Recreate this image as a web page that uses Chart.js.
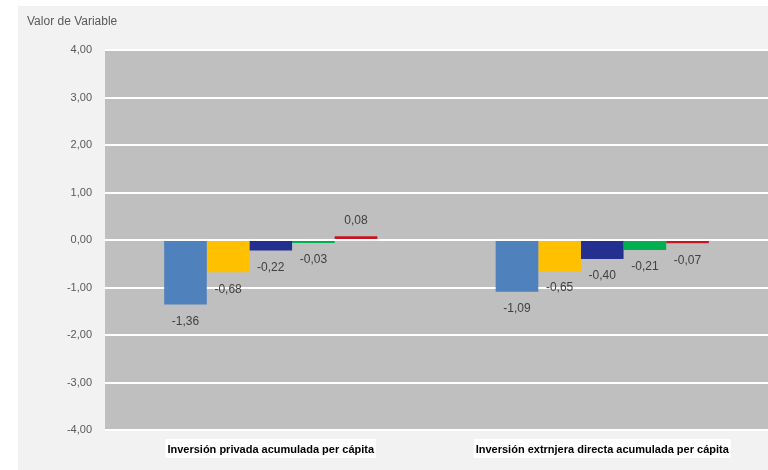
<!DOCTYPE html>
<html>
<head>
<meta charset="utf-8">
<script src="https://cdn.jsdelivr.net/npm/chart.js@4.4.0/dist/chart.umd.min.js"></script>
<style>
  html, body { margin: 0; padding: 0; background: #ffffff; }
  #wrap { position: absolute; left: 18px; top: 6px; width: 750px; height: 464px; }
</style>
</head>
<body>
<div id="wrap"><canvas id="chart" width="750" height="464"></canvas></div>
<script>
const categories = ['Inversión privada acumulada per cápita', 'Inversión extrnjera directa acumulada per cápita'];
const serie1 = [-1.36, -1.09];
const serie2 = [-0.68, -0.65];
const serie3 = [-0.22, -0.40];
const serie4 = [-0.03, -0.21];
const serie5 = [0.08, -0.07];
const yTicks = [-4, -3, -2, -1, 0, 1, 2, 3, 4];

const fmt = v => v.toFixed(2).replace('.', ',');

// gray plot area + light page background + axis title
const backgroundPlugin = {
    id: 'bg',
    beforeDraw(chart) {
        const { ctx, chartArea: a } = chart;
        ctx.save();
        ctx.fillStyle = '#f2f2f2';
        ctx.fillRect(0, 0, chart.width, chart.height);
        ctx.fillStyle = '#bfbfbf';
        ctx.fillRect(a.left, a.top, a.right - a.left, a.bottom - a.top);
        ctx.fillStyle = '#595959';
        ctx.font = '12px "Liberation Sans", Arial, sans-serif';
        ctx.textBaseline = 'middle';
        ctx.fillText('Valor de Variable', 9, 16);
        ctx.restore();
    }
};

// bold category labels on white boxes
const categoryLabels = {
    id: 'categoryLabels',
    afterDraw(chart) {
        const { ctx } = chart;
        const xs = chart.scales.x;
        const y = chart.chartArea.bottom + 20;
        ctx.save();
        ctx.font = 'bold 11px "Liberation Sans", Arial, sans-serif';
        ctx.textBaseline = 'middle';
        ctx.textAlign = 'center';
        chart.data.labels.forEach((lab, i) => {
            const x = xs.getPixelForTick(i);
            const w = ctx.measureText(lab).width;
            ctx.fillStyle = '#ffffff';
            ctx.fillRect(x - w / 2 - 2, y - 11, w + 4, 19);
            ctx.fillStyle = '#000000';
            ctx.fillText(lab, x, y);
        });
        ctx.restore();
    }
};

// value labels under/over each bar
const valueLabels = {
    id: 'valueLabels',
    afterDatasetsDraw(chart) {
        const { ctx } = chart;
        ctx.save();
        ctx.fillStyle = '#404040';
        ctx.font = '12px "Liberation Sans", Arial, sans-serif';
        ctx.textAlign = 'center';
        ctx.textBaseline = 'middle';
        chart.data.datasets.forEach((ds, i) => {
            chart.getDatasetMeta(i).data.forEach((bar, j) => {
                const v = ds.data[j];
                const y = v < 0 ? bar.y + 17 : bar.y - 16;
                ctx.fillText(fmt(v), bar.x, y);
            });
        });
        ctx.restore();
    }
};

const colors = ['#4f81bd', '#ffc000', '#23308f', '#00b050', '#c8141e'];
const series = [serie1, serie2, serie3, serie4, serie5];

new Chart(document.getElementById('chart'), {
    type: 'bar',
    data: {
        labels: categories,
        datasets: series.map((s, i) => ({
            label: 'Serie ' + (i + 1),
            data: s,
            backgroundColor: colors[i],
            borderWidth: 0,
            minBarLength: 3,
            barPercentage: 1,
            categoryPercentage: 0.643
        }))
    },
    options: {
        responsive: false,
        animation: false,
        layout: { padding: { top: 44, left: 0, right: 0, bottom: 0 } },
        plugins: { legend: { display: false }, tooltip: { enabled: false } },
        scales: {
            x: {
                offset: true,
                grid: { display: false, drawTicks: false },
                border: { display: false },
                afterFit(scale) { scale.height = 40; },
                ticks: { display: false }
            },
            y: {
                min: -4,
                max: 4,
                afterFit(scale) { scale.width = 87; },
                afterBuildTicks(scale) { scale.ticks = yTicks.map(v => ({ value: v })); },
                grid: { color: '#ffffff', lineWidth: 2, drawTicks: false },
                border: { display: false },
                ticks: {
                    color: '#595959',
                    padding: 13,
                    font: { family: '"Liberation Sans", Arial, sans-serif', size: 11 },
                    callback: v => fmt(v)
                }
            }
        }
    },
    plugins: [backgroundPlugin, valueLabels, categoryLabels]
});
</script>
</body>
</html>
